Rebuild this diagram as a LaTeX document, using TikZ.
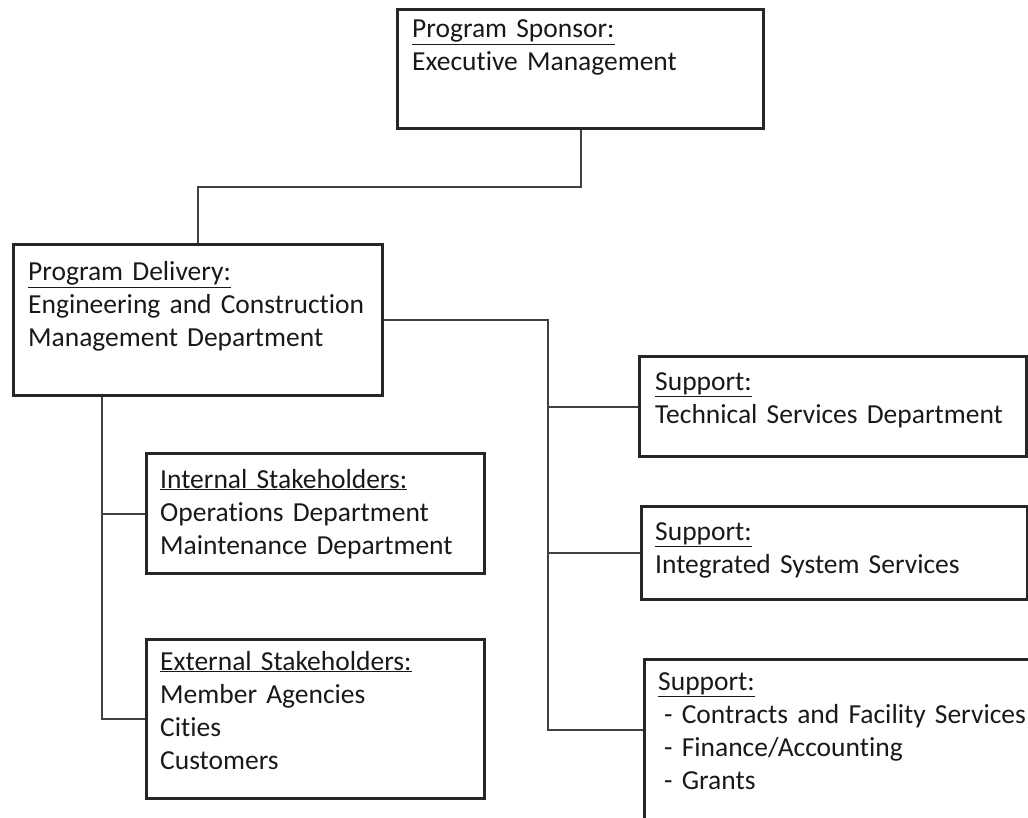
\documentclass[tikz,border=0pt]{standalone}
\usepackage{fontspec}
\setmainfont{Carlito}[Ligatures=NoCommon]
\usepackage{xcolor}

\begin{document}
\begin{tikzpicture}[x=1pt,y=-1pt,
  box/.style={draw=black!85,line width=3pt,anchor=north west,inner sep=0},
  txt/.style={anchor=base west,inner sep=0,text width=390pt,align=left,
    font=\fontsize{27.5}{33}\selectfont,text=black!90},
  link/.style={draw=black!75,line width=2pt}]
\useasboundingbox (0,0) rectangle (1028,818);
\clip (0,0) rectangle (1028,818);
% boxes
\node[box,minimum width=366pt,minimum height=119pt] (sponsor) at (396,8) {};
\node[txt] (sponsortxt) at (412,38) {\underline{Program Sponsor:}\\Executive Management};
\node[box,minimum width=369pt,minimum height=151pt] (delivery) at (12,243) {};
\node[txt] (deliverytxt) at (28,281) {\underline{Program Delivery:}\\Engineering and Construction\\Management Department};
\node[box,minimum width=338pt,minimum height=120pt] (internal) at (145,452) {};
\node[txt] (internaltxt) at (160,488) {\underline{Internal Stakeholders:}\\Operations Department\\Maintenance Department};
\node[box,minimum width=338pt,minimum height=159pt] (external) at (145,638) {};
\node[txt] (externaltxt) at (160,670) {\underline{External Stakeholders:}\\Member Agencies\\Cities\\Customers};
\node[box,minimum width=387pt,minimum height=100pt] (technical) at (638,355) {};
\node[txt] (technicaltxt) at (655,390) {\underline{Support:}\\Technical Services Department};
\node[box,minimum width=386pt,minimum height=93pt] (integrated) at (640,505) {};
\node[txt] (integratedtxt) at (655,540) {\underline{Support:}\\Integrated System Services};
\node[box,minimum width=400pt,minimum height=180pt] (finance) at (643,658) {};
\node[txt] (financetxt) at (658,690) {\underline{Support:}\\\hspace*{6pt}- Contracts and Facility Services\\\hspace*{6pt}- Finance/Accounting\\\hspace*{6pt}- Grants};
% connectors
\draw[link] (sponsor.south) -- ++(0,57) -| (delivery.north);
\draw[link] (delivery.east) -- ++(164,0) coordinate (rbus) |- ([yshift=-72pt]finance.north west);
\draw[link] (rbus) |- (technical.west);
\draw[link] (rbus) |- (integrated.west);
\draw[link] ([xshift=90pt]delivery.south west) coordinate (lbus) |- (external.west);
\draw[link] (lbus) |- (internal.west);
\end{tikzpicture}
\end{document}
